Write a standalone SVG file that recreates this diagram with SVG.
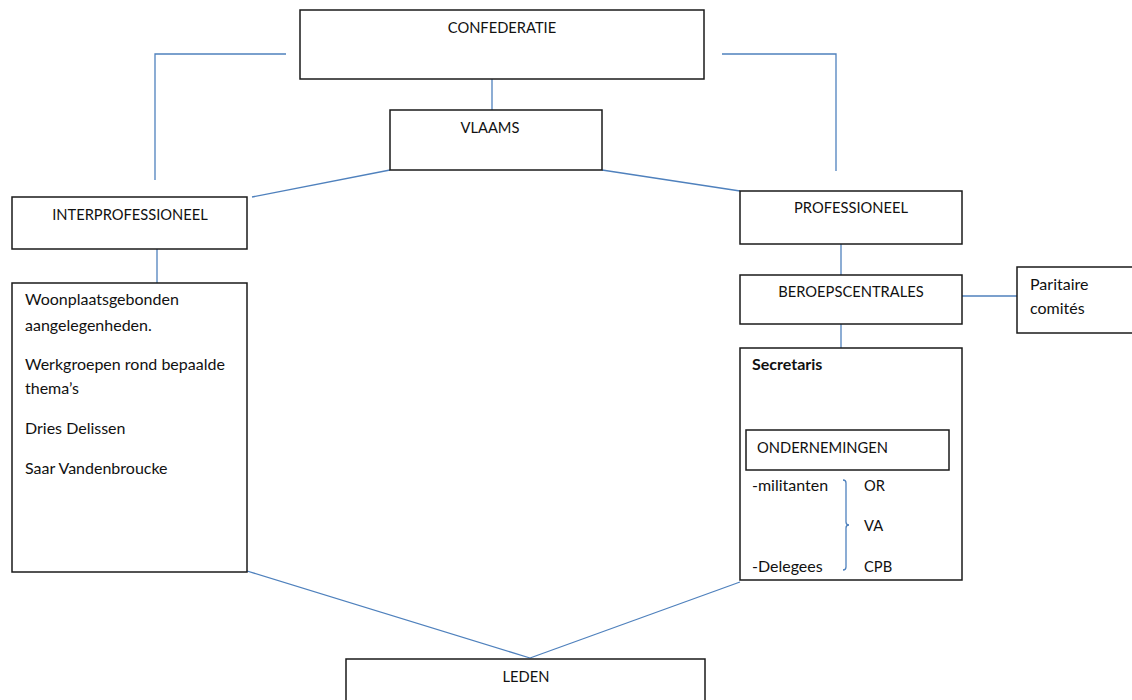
<svg xmlns="http://www.w3.org/2000/svg" width="1132" height="700" viewBox="0 0 1132 700">
<style>
.box{fill:#fff;stroke:#1a1a1a;stroke-width:1.5}
.ln{fill:none;stroke:#4f81bd;stroke-width:1.3}
text{font-family:Lato,"Liberation Sans",sans-serif;font-size:14.7px;fill:#111}
.m{font-size:16px}
.c{text-anchor:middle}
.b{font-weight:bold}
</style>
<rect width="1132" height="700" fill="#fff"/>
<g id="connectors">
<polyline class="ln" points="286,54 155,54 155,180"/>
<polyline class="ln" points="722,54 836,54 836,171"/>
<line class="ln" x1="492" y1="79" x2="492" y2="110"/>
<line class="ln" x1="390" y1="170" x2="252" y2="197"/>
<line class="ln" x1="602" y1="170" x2="740" y2="191"/>
<line class="ln" x1="157" y1="249" x2="157" y2="283"/>
<line class="ln" x1="841" y1="244" x2="841" y2="275"/>
<line class="ln" x1="962" y1="296" x2="1017" y2="296"/>
<line class="ln" x1="841" y1="324" x2="841" y2="348"/>
<line class="ln" x1="247" y1="571" x2="530" y2="658"/>
<line class="ln" x1="740" y1="582" x2="530" y2="658"/>
</g>
<g id="confederatie"><rect class="box" x="300" y="10" width="404" height="69"/><text class="c" x="502" y="33">CONFEDERATIE</text></g>
<g id="vlaams"><rect class="box" x="390" y="110" width="212" height="60"/><text class="c" x="490" y="133">VLAAMS</text></g>
<g id="interprofessioneel"><rect class="box" x="12" y="197" width="235" height="52"/><text class="c" x="130" y="220">INTERPROFESSIONEEL</text></g>
<g id="interprof-details"><rect class="box" x="12" y="283" width="235" height="289"/>
<text class="m" x="25" y="305">Woonplaatsgebonden</text>
<text class="m" x="25" y="331">aangelegenheden.</text>
<text class="m" x="25" y="370">Werkgroepen rond bepaalde</text>
<text class="m" x="25" y="394">thema’s</text>
<text class="m" x="25" y="434">Dries Delissen</text>
<text class="m" x="25" y="474">Saar Vandenbroucke</text>
</g>
<g id="professioneel"><rect class="box" x="740" y="191" width="222" height="53"/><text class="c" x="851" y="213">PROFESSIONEEL</text></g>
<g id="beroepscentrales"><rect class="box" x="740" y="275" width="222" height="49"/><text class="c" x="851" y="297">BEROEPSCENTRALES</text></g>
<g id="paritaire"><rect class="box" x="1017" y="267" width="120" height="66"/><text class="m" x="1030" y="290">Paritaire</text><text class="m" x="1030" y="314">comités</text></g>
<g id="secretaris"><rect class="box" x="740" y="348" width="222" height="232"/>
<text class="b m" x="752" y="370">Secretaris</text>
<rect class="box" x="746" y="430" width="203" height="40"/>
<text x="757" y="453">ONDERNEMINGEN</text>
<text class="m" x="752" y="491">-militanten</text>
<text class="m" x="752" y="572">-Delegees</text>
<text x="864" y="491">OR</text>
<text x="864" y="531">VA</text>
<text x="864" y="572">CPB</text>
<path class="ln" d="M843,480 Q846,480 846,483 L846,522 Q846,525 849,525 Q846,525 846,528 L846,567 Q846,570 843,570" stroke-width="1"/>
</g>
<g id="leden"><rect class="box" x="346" y="659" width="359" height="50"/><text class="c" x="526" y="682">LEDEN</text></g>
</svg>
